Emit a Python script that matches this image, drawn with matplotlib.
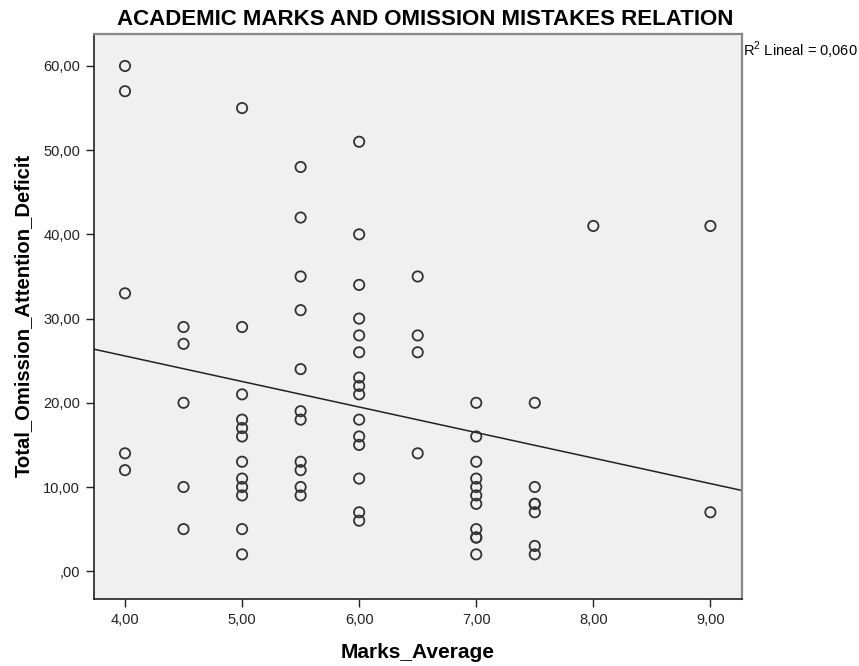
import matplotlib
matplotlib.use("Agg")
import matplotlib.pyplot as plt
import numpy as np

marks_4_0 = [60, 57, 33, 14, 12]
marks_4_5 = [29, 27, 20, 10, 5]
marks_5_0 = [55, 29, 21, 18, 17, 16, 13, 11, 10, 9, 5, 2]
marks_5_5 = [48, 42, 35, 31, 24, 19, 18, 13, 12, 10, 9]
marks_6_0 = [51, 40, 34, 30, 28, 26, 23, 22, 21, 18, 16, 15, 11, 7, 6]
marks_6_5 = [35, 28, 26, 14]
marks_7_0 = [20, 16, 13, 11, 10, 9, 8, 5, 4, 4, 2]
marks_7_5 = [20, 10, 8, 8, 7, 3, 2]
marks_8_0 = [41]
marks_9_0 = [41, 7]

mark_levels = [4.0, 4.5, 5.0, 5.5, 6.0, 6.5, 7.0, 7.5, 8.0, 9.0]
omissions = [marks_4_0, marks_4_5, marks_5_0, marks_5_5, marks_6_0,
             marks_6_5, marks_7_0, marks_7_5, marks_8_0, marks_9_0]

x_ticks = [4, 5, 6, 7, 8, 9]
x_tick_labels = ["4,00", "5,00", "6,00", "7,00", "8,00", "9,00"]
y_ticks = [0, 10, 20, 30, 40, 50, 60]
y_tick_labels = [",00", "10,00", "20,00", "30,00", "40,00", "50,00", "60,00"]

title = "ACADEMIC MARKS AND OMISSION MISTAKES RELATION"
x_label = "Marks_Average"
y_label = "Total_Omission_Attention_Deficit"
r2_text = "R$^2$ Lineal = 0,060"

plt.rcParams["font.family"] = ["Liberation Sans", "DejaVu Sans"]
plt.rcParams["mathtext.fontset"] = "custom"
plt.rcParams["mathtext.rm"] = "Liberation Sans"

xs = np.concatenate([[m] * len(v) for m, v in zip(mark_levels, omissions)])
ys = np.concatenate([v for v in omissions]).astype(float)

fig = plt.figure(figsize=(8.59, 6.66), dpi=100)
ax = fig.add_axes([0.1094, 0.1006, 0.7544, 0.8484])
ax.set_facecolor("#f0f0f0")

ax.scatter(xs, ys, s=55, facecolors="none", edgecolors="#333333", linewidths=1.3, zorder=3)

xmin, xmax = 3.735, 9.27
slope, intercept = np.polyfit(xs, ys, 1)
lx = np.array([xmin, xmax])
ax.plot(lx, intercept + slope * lx, color="#222222", lw=1.1, zorder=2)

ax.set_xlim(xmin, xmax)
ax.set_ylim(-3.3, 63.8)
ax.set_xticks(x_ticks)
ax.set_xticklabels(x_tick_labels, fontsize=10.5, color="#222222")
ax.set_yticks(y_ticks)
ax.set_yticklabels(y_tick_labels, fontsize=10.5, color="#222222")
ax.tick_params(direction="out", length=6, width=1, color="#222222", pad=4)

for side in ["left", "bottom"]:
    ax.spines[side].set_color("#222222")
    ax.spines[side].set_linewidth(1.2)
for side in ["top", "right"]:
    ax.spines[side].set_color("#888888")
    ax.spines[side].set_linewidth(1.6)

fig.text(0.486, 0.021, x_label, ha="center", va="center", fontsize=15, fontweight="bold")
fig.text(0.027, 0.527, y_label, ha="center", va="center", fontsize=14.6,
         fontweight="bold", rotation=90)
fig.text(0.495, 0.971, title, ha="center", va="center", fontsize=16, fontweight="bold")
fig.text(0.8645, 0.9155, r2_text, ha="left", va="baseline", fontsize=10.5)

fig.savefig("out.png", dpi=100)
